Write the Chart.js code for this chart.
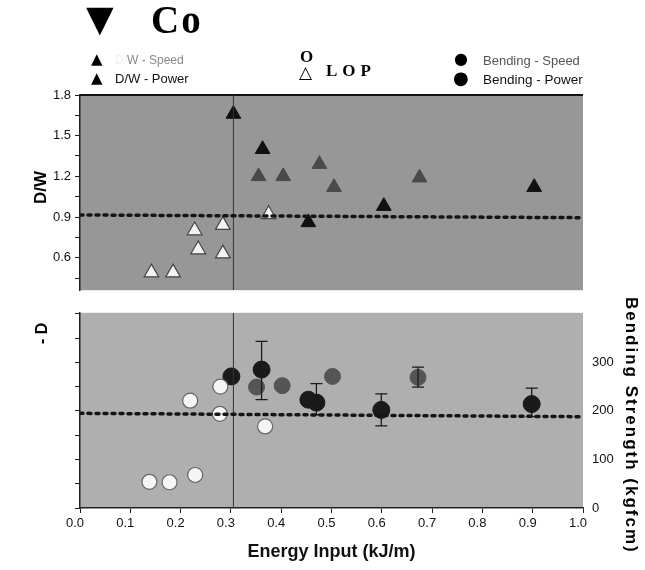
<!DOCTYPE html>
<html>
<head>
<meta charset="utf-8">
<script src="https://cdn.jsdelivr.net/npm/chart.js@4.4.1/dist/chart.umd.min.js"></script>
<style>
  body { margin: 0; background: #fff; }
  #wrap { position: relative; width: 645px; height: 570px; overflow: hidden; font-family: "Liberation Sans", Arial, sans-serif; }
  .abs { position: absolute; white-space: nowrap; line-height: 1; }
  #topChart { position: absolute; left: 0; top: 0; }
  #botChart { position: absolute; left: 0; top: 296px; }
</style>
</head>
<body>
<div id="wrap">
  <canvas id="topChart" width="645" height="302"></canvas>
  <canvas id="botChart" width="645" height="274"></canvas>

  <!-- heading and legend -->
  <div class="abs" style="left:86px;top:1px;font-size:36px;font-family:'DejaVu Sans';">&#9660;</div>
  <div class="abs" style="left:151px;top:0px;font-size:39px;font-weight:bold;letter-spacing:2px;font-family:'Liberation Serif',serif;">Co</div>

  <div class="abs" style="left:91px;top:52px;font-size:15px;font-family:'DejaVu Sans';">&#9650;</div>
  <div class="abs" style="left:115px;top:54px;font-size:12px;color:#888;"><span style="color:#f2f2f2">D/</span>W - Speed</div>
  <div class="abs" style="left:91px;top:71px;font-size:15px;font-family:'DejaVu Sans';">&#9650;</div>
  <div class="abs" style="left:115px;top:72px;font-size:13px;color:#111;">D/W - Power</div>

  <div class="abs" style="left:300px;top:48px;font-size:17px;font-weight:bold;font-family:'Liberation Serif',serif;">O</div>
  <div class="abs" style="left:299px;top:64px;font-size:17px;font-family:'DejaVu Sans';">&#9651;</div>
  <div class="abs" style="left:326px;top:62px;font-size:17px;font-weight:bold;letter-spacing:5px;font-family:'Liberation Serif',serif;">LOP</div>

  <div class="abs" style="left:454px;top:51px;font-size:16px;font-family:'DejaVu Sans';">&#9679;</div>
  <div class="abs" style="left:483px;top:54px;font-size:13px;color:#555;">Bending - Speed</div>
  <div class="abs" style="left:453px;top:69px;font-size:18px;font-family:'DejaVu Sans';">&#9679;</div>
  <div class="abs" style="left:483px;top:73px;font-size:13.5px;color:#111;">Bending - Power</div>

  <!-- side labels -->
  <div class="abs" style="left:32px;top:160px;font-size:17px;font-weight:bold;transform-origin:0 0;transform:translate(0,44px) rotate(-90deg);">D/W</div>
  <div class="abs" style="left:34px;top:300px;font-size:16px;font-weight:bold;transform-origin:0 0;transform:translate(0,44px) rotate(-90deg);">- D</div>
  <div class="abs" style="left:623px;top:297px;font-size:17px;font-weight:bold;letter-spacing:2px;writing-mode:vertical-rl;">Bending Strength (kgfcm)</div>
</div>

<script>
// ---- data ----
// D/W (upper panel)
const dwSpeedX = [0.355, 0.404, 0.476, 0.505, 0.675];
const dwSpeedY = [1.20, 1.20, 1.29, 1.12, 1.19];
const dwPowerX = [0.305, 0.363, 0.454, 0.604, 0.903];
const dwPowerY = [1.66, 1.40, 0.86, 0.98, 1.12];
const lopDwX = [0.142, 0.185, 0.228, 0.235, 0.284, 0.284, 0.375];
const lopDwY = [0.49, 0.49, 0.80, 0.66, 0.84, 0.63, 0.92];
const dwRefX = [0, 1];
const dwRefY = [0.915, 0.895];

// Bending strength (lower panel)
const bendSpeedX = [0.351, 0.402, 0.502, 0.672];
const bendSpeedY = [249, 252, 271, 269];
const bendPowerX = [0.301, 0.361, 0.454, 0.470, 0.599, 0.898];
const bendPowerY = [271, 285, 223, 217, 202, 214];
const lopBendX = [0.138, 0.178, 0.229, 0.219, 0.279, 0.278, 0.368];
const lopBendY = [54, 53, 68, 221, 250, 194, 168];
const errX = [0.361, 0.470, 0.599, 0.672, 0.898];
const errLow = [223, 192, 169, 249, 188];
const errHigh = [343, 256, 235, 290, 247];
const bendRefX = [0, 1];
const bendRefY = [195, 188];

const markerX = 0.305;   // vertical line

// ticks
const energyTicks = [0, 0.1, 0.2, 0.3, 0.4, 0.5, 0.6, 0.7, 0.8, 0.9, 1.0];
const dwTicks = [0.6, 0.9, 1.2, 1.5, 1.8];
const dwMinor = [0.45, 0.75, 1.05, 1.35, 1.65];
const bendTicks = [0, 100, 200, 300];
const bendLeftTicks = [0, 50, 100, 150, 200, 250, 300, 350, 400];

const dwRange = [0.36, 1.8];
const bendRange = [0, 402];

function pts(xs, ys) { return xs.map((x, i) => ({ x: x, y: ys[i] })); }

const panelBg = {
  id: 'panelBg',
  beforeDraw(chart, args, opts) {
    const a = chart.chartArea, c = chart.ctx;
    c.save();
    c.fillStyle = opts.color;
    c.fillRect(a.left, a.top, a.right - a.left, a.bottom - a.top);
    if (opts.topLine) {
      c.strokeStyle = '#111';
      c.lineWidth = 2;
      c.beginPath();
      c.moveTo(a.left, a.top);
      c.lineTo(a.right, a.top);
      c.stroke();
    }
    c.restore();
  }
};

const tickFont = { family: 'Liberation Sans', size: 13 };

// ---------- upper chart ----------
new Chart(document.getElementById('topChart'), {
  type: 'scatter',
  data: {
    datasets: [
      { label: 'ref', data: pts(dwRefX, dwRefY), showLine: true, pointRadius: 0,
        borderColor: '#151515', borderWidth: 3.5, borderDash: [3, 5], borderCapStyle: 'round' },
      { label: 'marker', data: pts([markerX, markerX], dwRange), showLine: true, pointRadius: 0,
        borderColor: '#333', borderWidth: 1 },
      { label: 'LOP', data: pts(lopDwX, lopDwY), pointStyle: 'triangle', pointRadius: 8.5,
        backgroundColor: '#f3f3f3', borderColor: '#444', borderWidth: 1.2 },
      { label: 'D/W - Speed', data: pts(dwSpeedX, dwSpeedY), pointStyle: 'triangle', pointRadius: 8.5,
        backgroundColor: '#4a4a4a', borderColor: '#4a4a4a' },
      { label: 'D/W - Power', data: pts(dwPowerX, dwPowerY), pointStyle: 'triangle', pointRadius: 8.5,
        backgroundColor: '#111', borderColor: '#111' }
    ]
  },
  options: {
    responsive: false,
    animation: false,
    layout: { padding: { left: 0, top: 95, right: 62, bottom: 5 } },
    plugins: { legend: { display: false }, tooltip: { enabled: false }, panelBg: { color: '#979797', topLine: true } },
    scales: {
      x: { type: 'linear', min: 0, max: 1, display: false },
      y: {
        type: 'linear', position: 'left', min: dwRange[0], max: dwRange[1],
        afterBuildTicks: s => { s.ticks = dwTicks.concat(dwMinor).sort((a, b) => a - b).map(v => ({ value: v })); },
        afterFit: s => { s.width = 80; },
        ticks: { font: tickFont, color: '#111', padding: 4,
          callback: v => dwTicks.some(t => Math.abs(t - v) < 1e-6) ? v.toFixed(1) : '' },
        grid: { drawOnChartArea: false, tickLength: 5, color: '#222' },
        border: { color: '#222', width: 1.5 }
      }
    }
  },
  plugins: [panelBg]
});

// ---------- lower chart ----------
const errData = [];
errX.forEach((x, i) => {
  errData.push({ x: x, y: errLow[i] }, { x: x, y: errHigh[i] }, { x: x, y: null });
  errData.push({ x: x - 0.012, y: errHigh[i] }, { x: x + 0.012, y: errHigh[i] }, { x: x, y: null });
  errData.push({ x: x - 0.012, y: errLow[i] }, { x: x + 0.012, y: errLow[i] }, { x: x, y: null });
});

new Chart(document.getElementById('botChart'), {
  type: 'scatter',
  data: {
    datasets: [
      { label: 'ref', data: pts(bendRefX, bendRefY), showLine: true, pointRadius: 0, yAxisID: 'yr',
        borderColor: '#151515', borderWidth: 3.5, borderDash: [3, 5], borderCapStyle: 'round' },
      { label: 'marker', data: pts([markerX, markerX], bendRange), showLine: true, pointRadius: 0, yAxisID: 'yr',
        borderColor: '#333', borderWidth: 1 },
      { label: 'err', data: errData, showLine: true, spanGaps: false, pointRadius: 0, yAxisID: 'yr',
        borderColor: '#1a1a1a', borderWidth: 1.3 },
      { label: 'LOP', data: pts(lopBendX, lopBendY), pointStyle: 'circle', pointRadius: 7.5, yAxisID: 'yr',
        backgroundColor: '#f5f5f5', borderColor: '#666', borderWidth: 1.2 },
      { label: 'Bending - Speed', data: pts(bendSpeedX, bendSpeedY), pointStyle: 'circle', pointRadius: 8, yAxisID: 'yr',
        backgroundColor: '#555', borderColor: '#555' },
      { label: 'Bending - Power', data: pts(bendPowerX, bendPowerY), pointStyle: 'circle', pointRadius: 8.5, yAxisID: 'yr',
        backgroundColor: '#1a1a1a', borderColor: '#1a1a1a' }
    ]
  },
  options: {
    responsive: false,
    animation: false,
    layout: { padding: { left: 0, top: 9, right: 0, bottom: 0 } },
    plugins: { legend: { display: false }, tooltip: { enabled: false }, panelBg: { color: '#afafaf', topLine: false } },
    scales: {
      x: {
        type: 'linear', min: 0, max: 1,
        afterBuildTicks: s => { s.ticks = energyTicks.map(v => ({ value: v })); },
        afterFit: s => { s.height = 62; },
        ticks: { font: tickFont, color: '#111', padding: 3, maxRotation: 0, labelOffset: -5, callback: v => v.toFixed(1) },
        grid: { drawOnChartArea: false, tickLength: 5, color: '#222' },
        border: { color: '#222', width: 1.5 },
        title: { display: true, text: 'Energy Input (kJ/m)', color: '#111',
          font: { family: 'Liberation Sans', size: 18, weight: 'bold' }, padding: { top: 4, bottom: 7 } }
      },
      yl: {
        type: 'linear', position: 'left', min: bendRange[0], max: bendRange[1],
        afterBuildTicks: s => { s.ticks = bendLeftTicks.map(v => ({ value: v })); },
        afterFit: s => { s.width = 80; },
        ticks: { callback: () => '' },
        grid: { drawOnChartArea: false, tickLength: 5, color: '#222' },
        border: { color: '#222', width: 1.5 }
      },
      yr: {
        type: 'linear', position: 'right', min: bendRange[0], max: bendRange[1],
        afterBuildTicks: s => { s.ticks = bendTicks.map(v => ({ value: v })); },
        afterFit: s => { s.width = 62; },
        ticks: { font: tickFont, color: '#111', padding: 9 },
        grid: { display: false, tickLength: 0 },
        border: { display: false }
      }
    }
  },
  plugins: [panelBg]
});
</script>
</body>
</html>
